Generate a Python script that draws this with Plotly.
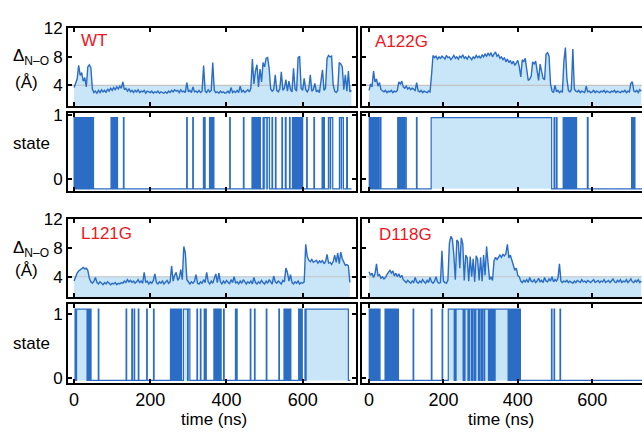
import numpy as np
import plotly.graph_objects as go

W, H = 642, 433
DT_NS = 4          # spacing of the sampled trajectory frames (ns)
THRESH = 4.0       # reference distance line (Angstrom)

# ---------------- distance traces (Angstrom), one value every DT_NS ----------------
wt_dist = [
    3.7, 4.3, 4.9, 6.8, 5.4, 5.8, 4.6, 5.1, 3.8, 6.6,
    6.9, 6.5, 3.5, 3.0, 3.2, 2.9, 3.3, 3.0, 3.4, 3.1,
    3.3, 3.0, 3.5, 3.2, 3.6, 3.3, 3.7, 3.4, 3.8, 3.5,
    3.9, 3.6, 4.5, 3.4, 3.6, 3.2, 3.5, 3.1, 3.3, 3.0,
    3.3, 3.1, 3.4, 3.0, 3.2, 3.1, 3.3, 2.9, 3.2, 3.1,
    3.0, 3.2, 2.9, 3.1, 3.0, 3.2, 2.9, 3.1, 3.0, 2.9,
    3.1, 2.9, 3.2, 3.0, 3.3, 3.1, 3.4, 3.2, 3.3, 3.0,
    3.4, 3.1, 3.2, 3.0, 4.4, 3.1, 3.3, 3.0, 3.8, 3.1,
    3.2, 3.0, 3.3, 3.0, 3.2, 6.8, 3.2, 3.0, 3.4, 3.1,
    3.3, 7.2, 3.3, 3.0, 3.1, 2.9, 3.2, 3.0, 3.1, 2.9,
    3.0, 3.2, 2.9, 3.7, 3.0, 3.2, 3.0, 3.3, 3.0, 3.9,
    3.1, 3.3, 3.0, 3.2, 3.4, 3.1, 3.6, 7.7, 4.2, 6.0,
    6.9, 3.8, 6.3, 4.5, 7.2, 6.6, 7.8, 7.9, 6.4, 3.5,
    3.2, 3.4, 5.5, 3.3, 3.1, 3.5, 5.9, 3.3, 3.6, 4.8,
    3.2, 4.6, 3.4, 3.1, 6.4, 3.5, 3.2, 7.9, 8.1, 3.6,
    3.3, 5.0, 3.4, 3.1, 3.5, 5.5, 3.2, 3.4, 4.3, 3.1,
    3.3, 3.0, 4.5, 6.2, 3.3, 3.6, 7.8, 8.2, 8.0, 8.1,
    4.1, 3.2, 3.0, 3.3, 7.2, 7.0, 6.6, 3.4, 5.5, 3.2,
    6.0, 3.1, 3.3,
]

a122g_dist = [
    3.3, 4.2, 3.8, 6.0, 4.5, 4.9, 3.9, 4.4, 3.4, 3.2,
    3.1, 3.3, 3.0, 3.2, 3.1, 3.3, 3.0, 3.2, 3.1, 3.3,
    4.5, 4.2, 4.6, 3.8, 3.6, 3.9, 3.5, 3.7, 3.4, 3.6,
    3.5, 3.3, 4.4, 3.2, 3.1, 3.3, 3.0, 3.2, 3.1, 3.0,
    3.2, 3.1, 5.5, 8.2, 7.9, 8.1, 7.7, 8.0, 7.8, 8.1,
    7.9, 7.7, 8.2, 7.9, 8.0, 7.6, 7.9, 8.2, 7.8, 8.0,
    7.7, 8.1, 7.9, 8.3, 7.8, 8.0, 7.7, 8.1, 7.9, 7.6,
    8.0, 7.8, 8.2, 7.9, 8.1, 7.8, 8.3, 8.0, 8.4, 8.1,
    8.5, 8.2, 8.6, 8.0, 8.4, 8.7, 8.1, 8.3, 7.8, 8.0,
    7.6, 7.9, 7.3, 7.7, 7.2, 7.5, 7.0, 7.4, 6.8, 7.2,
    7.5, 6.6, 5.2, 7.6, 7.3, 7.8, 6.0, 4.7, 4.9, 5.3,
    7.3, 7.0, 7.4, 5.8, 4.7, 7.0, 6.2, 5.0, 4.8, 8.4,
    8.6, 8.1, 4.2, 3.2, 3.0, 4.0, 3.1, 3.3, 3.0, 3.2,
    3.1, 7.4, 9.3, 5.0, 3.3, 3.1, 3.4, 9.1, 3.5, 3.2,
    3.1, 3.3, 3.0, 3.2, 3.1, 3.0, 3.9, 3.1, 3.2, 3.0,
    3.1, 3.3, 3.0, 3.2, 3.1, 3.0, 3.2, 3.1, 3.3, 3.0,
    3.2, 3.1, 3.0, 3.2, 3.1, 3.3, 3.0, 3.2, 3.1, 3.0,
    3.2, 3.1, 3.3, 3.0, 3.2, 3.1, 4.3, 4.5, 3.2, 3.1,
    3.3, 3.0, 3.4, 3.2,
]

l121g_dist = [
    3.4, 4.0, 4.5, 4.8, 5.0, 5.2, 5.3, 5.1, 5.2, 4.9,
    3.8, 3.3, 3.1, 3.4, 3.9, 3.2, 3.0, 3.3, 3.1, 2.9,
    3.2, 3.0, 3.3, 3.1, 2.9, 3.1, 3.0, 3.2, 2.9, 3.1,
    3.0, 3.2, 3.1, 3.4, 3.2, 3.6, 3.3, 3.5, 3.2, 3.4,
    3.1, 3.3, 3.6, 3.2, 3.4, 3.1, 4.6, 3.2, 3.4, 3.0,
    3.3, 3.1, 3.5, 4.4, 3.2, 3.0, 3.3, 3.1, 3.4, 3.0,
    3.2, 3.5, 3.1, 3.3, 5.5, 3.4, 4.2, 4.6, 3.5, 3.8,
    5.0, 3.6, 8.2, 7.3, 3.6, 3.2, 3.0, 3.3, 3.1, 3.4,
    4.3, 3.1, 3.0, 3.3, 3.1, 3.6, 3.2, 4.6, 3.3, 3.0,
    3.4, 3.1, 3.8, 4.4, 3.2, 4.5, 3.3, 3.0, 3.4, 3.1,
    3.5, 3.2, 3.0, 3.6, 3.2, 4.0, 3.1, 3.3, 3.0, 3.4,
    3.1, 3.6, 3.2, 3.0, 3.3, 3.1, 3.4, 3.0, 3.9, 3.2,
    3.0, 3.3, 3.1, 3.5, 3.2, 3.0, 3.4, 3.1, 3.6, 3.2,
    3.0, 4.1, 3.3, 3.1, 3.4, 3.2, 3.0, 3.5, 3.3, 5.2,
    4.6, 3.4, 4.3, 3.2, 3.0, 3.3, 3.1, 3.4, 3.0, 3.2,
    3.1, 3.3, 8.5, 6.8, 6.3, 6.1, 6.4, 6.0, 6.2, 6.3,
    5.9, 6.2, 6.0, 6.3, 5.8, 6.1, 7.1, 5.9, 6.0, 5.7,
    6.1, 7.0, 6.0, 7.3, 5.8, 7.4, 6.5, 5.9, 5.6, 5.7,
    5.5, 3.2,
]

d118g_dist = [
    4.7, 4.2, 4.5, 3.9, 4.4, 5.8, 4.1, 4.3, 3.8, 4.0,
    3.7, 3.9, 4.3, 4.6, 4.9, 4.5, 4.8, 4.1, 4.5, 4.0,
    4.4, 3.9, 4.2, 3.6, 3.4, 3.2, 3.5, 3.3, 3.1, 3.4,
    3.2, 3.9, 3.3, 3.1, 3.4, 3.2, 3.6, 3.3, 3.1, 3.5,
    3.2, 3.9, 3.3, 3.1, 3.4, 4.0, 3.3, 3.1, 3.2, 7.6,
    3.4, 3.2, 3.1, 3.5, 8.6, 9.6, 9.2, 7.0, 3.6, 9.1,
    8.8, 5.2, 9.4, 8.6, 3.5, 7.0, 6.6, 3.4, 6.8, 4.0,
    6.5, 3.3, 6.9, 6.4, 3.5, 6.7, 3.4, 7.0, 4.2, 8.2,
    6.3, 3.6, 4.0, 3.5, 6.2, 6.7, 6.4, 6.8, 7.0, 6.7,
    7.1, 6.9, 7.2, 8.5, 6.6, 7.0, 6.3, 5.8, 4.9, 5.2,
    4.2, 4.0, 3.4, 3.2, 3.5, 3.3, 3.6, 3.2, 3.9, 3.4,
    3.3, 3.6, 3.2, 3.4, 3.8, 3.3, 3.5, 3.2, 3.9, 3.4,
    3.3, 3.7, 3.4, 4.0, 3.3, 3.6, 3.4, 3.8, 5.8, 3.4,
    3.2, 3.4, 3.3, 3.5, 3.2, 3.4, 3.3, 3.1, 3.4, 3.2,
    3.5, 3.3, 3.2, 3.6, 3.3, 3.4, 3.2, 3.5, 3.3, 3.2,
    3.4, 3.6, 3.2, 3.3, 3.5, 3.2, 3.4, 3.3, 3.6, 3.2,
    3.3, 3.5, 3.2, 3.4, 3.7, 3.3, 3.2, 3.5, 3.3, 3.6,
    3.2, 3.4, 3.3, 3.6, 3.2, 3.4, 3.7, 3.3, 3.2, 3.5,
    3.3, 3.6, 3.2, 3.4,
]

# ---------------- state = 1 intervals (ns) ----------------
wt_state = [
    (0, 1.5), (2, 4), (4.5, 6), (6.5, 8), (8.5, 10.5), (11, 13), (13.5, 15),
    (17, 19), (19.5, 21.5), (22, 24), (24.5, 26.5), (27, 29), (29.5, 31.5),
    (32, 34), (36, 38), (38.5, 39.5), (41, 43), (43.5, 45.5), (46, 48), (48.5, 51),
    (97, 98.5), (99.5, 101), (103, 104), (105, 106.5), (108, 109.5), (110.5, 112),
    (113, 114), (129.5, 131), (295.5, 297), (311.5, 313), (339.5, 341), (343, 344),
    (355.5, 357), (359, 360.5), (362, 363.5), (365, 367), (408.5, 410), (444.5, 446),
    (467, 468.5), (469, 471), (471.5, 473), (474, 476), (476.5, 478), (479, 481),
    (482, 484), (484.5, 486), (487, 489), (496, 498), (499, 506), (507, 513),
    (519.5, 521), (528.5, 530), (545.5, 547), (554.5, 556.5), (565.5, 567),
    (573, 575), (575.5, 577), (578, 580), (581, 582.5), (583, 585), (586, 588),
    (588.5, 590), (591, 593), (593.5, 595.5), (598.5, 600), (610.5, 612),
    (629.5, 631), (651, 653), (655, 657), (667.5, 672), (673, 679),
    (696.5, 701), (702, 707), (715.5, 717.5),
]

a122g_state = [
    (0.5, 2), (2.5, 4), (4.5, 6.5), (7, 8.5), (9, 11), (11.5, 13), (13.5, 15.5),
    (16, 18.5), (20, 21.5), (22, 24), (24.5, 27), (30.5, 32),
    (77, 78.5), (79, 81), (81.5, 83), (83.5, 85.5), (86, 88), (88.5, 90),
    (90.5, 92.5), (93, 95), (98.5, 100), (127.5, 129), (167, 491),
    (497.5, 499), (503.5, 505.5), (522, 524), (524.5, 526), (527.5, 529.5),
    (530, 532), (533, 535), (535.5, 537), (538, 540), (541, 543), (543.5, 545),
    (546, 548), (549, 551), (551.5, 553), (554, 556), (556.5, 558), (587, 589),
    (706, 707.5), (708, 710), (710.5, 712), (712.5, 715),
]

l121g_state = [
    (2.5, 4), (6.5, 34), (35, 36.5), (37.5, 39), (40.5, 42), (43, 44.5),
    (63.5, 65), (136.5, 138), (151.5, 153), (157.5, 159), (168.5, 170),
    (190.5, 192), (208.5, 210), (253, 254.5), (256, 257.5), (259, 260.5),
    (262, 264), (265, 266.5), (268, 270), (271, 272.5), (274, 276), (277, 278.5),
    (280, 282), (287, 298), (299.5, 304), (322.5, 324), (331.5, 333),
    (341.5, 343), (345.5, 347), (367, 368.5), (370, 371.5), (372.5, 374),
    (375.5, 377), (378, 380), (381, 382.5), (384, 386), (392.5, 394),
    (423.5, 425), (426.5, 428), (462.5, 464), (473.5, 475), (504.5, 506),
    (537.5, 539), (551, 552.5), (554, 556), (557, 558.5), (560, 562),
    (563.5, 565), (567, 569), (589.5, 591), (594, 595.5), (597.5, 599),
    (606, 607.5), (609, 720),
]

d118g_state = [
    (0.5, 2), (2.5, 4.5), (5, 6.5), (7, 9), (9.5, 11), (11.5, 13.5), (14, 16),
    (16.5, 18), (18.5, 20.5), (21, 23), (23.5, 25), (25.5, 27.5), (28, 29.5),
    (43, 45), (45.5, 47), (48.5, 50), (51, 53), (54, 55.5), (57, 59), (60, 62),
    (62.5, 64), (65.5, 67), (68, 70), (71, 73), (74, 76), (77, 79),
    (118.5, 120), (167.5, 169), (196.5, 198),
    (213, 229), (230.5, 232), (234, 253), (254.5, 256), (258, 266), (267, 268.5),
    (270, 275), (276.5, 278), (279, 283), (284, 285.5), (287, 294), (295, 296.5),
    (298, 302), (303, 304.5), (306, 310), (311, 321), (322, 323.5), (325, 326.5),
    (328, 329.5), (331, 332.5), (334, 336), (337, 338), (339, 374), (375, 376.5),
    (377.5, 380), (381, 383), (384, 385.5), (386.5, 389), (390, 392), (393, 395),
    (396, 398), (399, 401), (402, 404), (405, 407),
    (490.5, 492), (497.5, 499), (513.5, 515),
]

state_end = {"WT": 728, "L121G": 725, "A122G": 734, "D118G": 734}

dist_ticks = [4, 8, 12]
time_ticks = [0, 200, 400, 600]
time_tick_text = ["0", "200", "400", "600"]

# ---------------- style ----------------
FONT = "Liberation Sans, Arial, Helvetica, sans-serif"
BLUE = "#2b6cc4"
FILL = "#c9e6f8"
GRAY = "#c4c4c4"
RED = "#f0141e"

def px_x(x):
    return x / W

def px_y(y):
    return 1 - y / H

cols = {"L": (68, 356), "R": (362, 642)}
rows = [(20, 100), (107, 188), (217, 298), (305, 386)]
xranges = {"L": [-16, 740], "R": [-19, 734]}

fig = go.Figure()

panels = [
    (1, "L", 0, "dist", "WT"),
    (2, "L", 1, "state", "WT"),
    (3, "L", 2, "dist", "L121G"),
    (4, "L", 3, "state", "L121G"),
    (5, "R", 0, "dist", "A122G"),
    (6, "R", 1, "state", "A122G"),
    (7, "R", 2, "dist", "D118G"),
    (8, "R", 3, "state", "D118G"),
]

dist_data = {"WT": wt_dist, "L121G": l121g_dist, "A122G": a122g_dist, "D118G": d118g_dist}
state_data = {"WT": wt_state, "L121G": l121g_state, "A122G": a122g_state, "D118G": d118g_state}

state_ticks_by_row = {1: [0.133, 1.029], 3: [0.038, 0.934]}

layout_axes = {}
for idx, col, row, kind, name in panels:
    xs = "x" if idx == 1 else f"x{idx}"
    ys = "y" if idx == 1 else f"y{idx}"
    xname = "xaxis" if idx == 1 else f"xaxis{idx}"
    yname = "yaxis" if idx == 1 else f"yaxis{idx}"
    c0, c1 = cols[col]
    r0, r1 = rows[row]
    layout_axes[xname] = dict(
        domain=[px_x(c0), px_x(c1)], anchor=ys, range=xranges[col],
        tickvals=time_ticks, ticktext=time_tick_text,
        showticklabels=(row == 3), ticks="inside", ticklen=4, tickwidth=1.5,
        tickcolor="black", showline=True, linewidth=2, linecolor="black",
        mirror="ticks", showgrid=False, zeroline=False,
        tickfont=dict(family=FONT, size=18, color="black"),
    )
    ymirror = "ticks" if col == "L" else False
    if kind == "dist":
        d = np.array(dist_data[name], dtype=float)
        t = np.arange(len(d)) * DT_NS
        fig.add_trace(go.Scatter(x=t, y=np.maximum(d, THRESH), mode="lines",
                                 line=dict(width=0, color=FILL), fill="tozeroy",
                                 fillcolor=FILL, hoverinfo="skip",
                                 xaxis=xs, yaxis=ys, showlegend=False))
        fig.add_trace(go.Scatter(x=[xranges[col][0], xranges[col][1]], y=[THRESH, THRESH],
                                 mode="lines", line=dict(width=1.2, color=GRAY),
                                 xaxis=xs, yaxis=ys, showlegend=False))
        fig.add_trace(go.Scatter(x=t, y=d, mode="lines",
                                 line=dict(width=1.4, color=BLUE),
                                 xaxis=xs, yaxis=ys, showlegend=False))
        layout_axes[yname] = dict(
            domain=[px_y(r1), px_y(r0)], anchor=xs, range=[1.15, 12],
            tickvals=dist_ticks, ticktext=[str(v) for v in dist_ticks],
            showticklabels=(col == "L"), ticks="inside", ticklen=4, tickwidth=1.5,
            tickcolor="black", showline=True, linewidth=2, linecolor="black",
            mirror=ymirror, showgrid=False, zeroline=False,
            tickfont=dict(family=FONT, size=17, color="black"),
        )
    else:
        sx, sy = [0.0], [0]
        for s, e in state_data[name]:
            sx += [s, e]
            sy += [1, 0]
        sx.append(state_end[name])
        sy.append(0)
        fig.add_trace(go.Scatter(x=sx, y=sy, mode="lines", line_shape="hv",
                                 line=dict(width=1.2, color=BLUE), fill="tozeroy",
                                 fillcolor=FILL, xaxis=xs, yaxis=ys, showlegend=False))
        layout_axes[yname] = dict(
            domain=[px_y(r1), px_y(r0)], anchor=xs, range=[-0.03, 1.07],
            tickvals=state_ticks_by_row[row], ticktext=["0", "1"],
            showticklabels=(col == "L"), ticks="inside", ticklen=4, tickwidth=1.5,
            tickcolor="black", showline=True, linewidth=2, linecolor="black",
            mirror=ymirror, showgrid=False, zeroline=False,
            tickfont=dict(family=FONT, size=17, color="black"),
        )

annotations = []
def ann(text, x, y, size=17, color="black", xanchor="center"):
    annotations.append(dict(text=text, x=px_x(x), y=px_y(y), xref="paper", yref="paper",
                            showarrow=False, xanchor=xanchor, yanchor="middle",
                            font=dict(family=FONT, size=size, color=color)))

for name, x, y in [("WT", 79, 33), ("A122G", 373, 33.5), ("L121G", 79, 231.5), ("D118G", 377, 233)]:
    ann(name, x, y, size=17, color=RED, xanchor="left")

for yd, ya in [(50, 76), (248, 270)]:
    ann("Δ<sub><span style='font-size:12px'>N–O</span></sub>", 11, yd, size=17, xanchor="left")
    ann("(Å)", 26, ya, size=17)
for ys_ in [139, 346]:
    ann("state", 31, ys_, size=17)
ann("time (ns)", 214, 424, size=17)
ann("time (ns)", 501, 424, size=17)

fig.update_layout(
    width=W, height=H, autosize=False,
    margin=dict(l=0, r=0, t=0, b=0),
    paper_bgcolor="white", plot_bgcolor="white",
    font=dict(family=FONT, size=17, color="black"),
    annotations=annotations,
    **layout_axes,
)

fig.write_html(
    "out.html",
    config={"displayModeBar": False},
    post_script="document.body.style.margin='0';document.body.style.overflow='hidden';",
)
